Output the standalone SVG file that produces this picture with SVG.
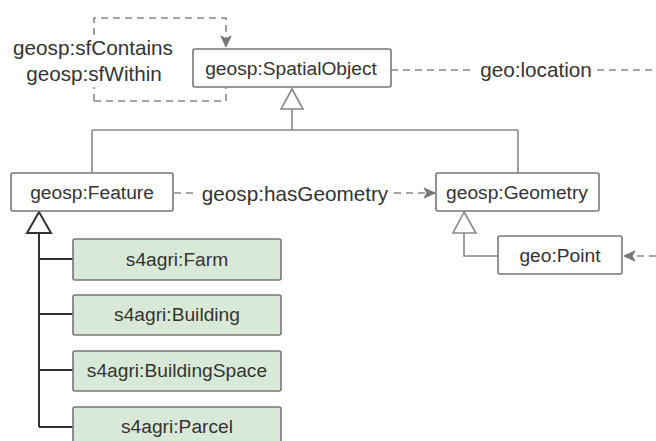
<svg xmlns="http://www.w3.org/2000/svg" width="656" height="441" viewBox="0 0 656 441">
<style>
text{font-family:"Liberation Sans",Arial,sans-serif;font-size:19.2px;fill:#333;text-anchor:middle}
.lbl{font-size:20.7px}
.box{fill:#fff;stroke:#777;stroke-width:1.6}
.green{fill:#d8ead7;stroke:#777;stroke-width:1.6}
.line{fill:none;stroke:#888;stroke-width:1.6}
.dark{fill:none;stroke:#333;stroke-width:2}
.dash{fill:none;stroke:#888;stroke-width:1.6;stroke-dasharray:7 5}
</style>
<defs>
<marker id="open" markerWidth="14" markerHeight="12" refX="12" refY="6" orient="auto" markerUnits="userSpaceOnUse">
<path d="M1,1 L12,6 L1,11 L4,6 Z" fill="#777" stroke="#777" stroke-width="1"/>
</marker>
</defs>
<g id="connectors">
<path class="dash" d="M226,101 V87 M94,101 V87 M94,101 H226 M94,35 V18 H226 V47" marker-end="url(#open)"/>
<path class="dash" d="M391,70 H475 M597,70 H656"/>
<path class="dash" d="M174,193 H196"/>
<path class="dash" d="M394,193 H435" marker-end="url(#open)"/>
<path class="dash" d="M656,256 H624" marker-end="url(#open)"/>
<path class="line" d="M292,109 V130 M92,130 H518 M92,130 V173 M518,130 V173"/>
<path class="line" d="M292,89 L281,109 H303 Z" fill="#fff"/>
<path class="line" d="M464,233 V256 H498"/>
<path class="line" d="M464,212 L453,233 H476 Z" fill="#fff"/>
<path class="dark" d="M39,233 V427 M39,259 H73 M39,314 H73 M39,370 H73 M39,427 H73"/>
<path class="dark" d="M39,212 L27,233 H51 Z" fill="#fff"/>
</g>
<g id="label-sfContains">
<text class="lbl" x="93" y="55">geosp:sfContains</text>
<text class="lbl" x="94" y="81">geosp:sfWithin</text>
</g>
<text class="lbl" x="536" y="77">geo:location</text>
<text class="lbl" x="295" y="201">geosp:hasGeometry</text>
<g id="SpatialObject"><rect class="box" x="193" y="49" width="198" height="38" rx="2"/><text x="291" y="75">geosp:SpatialObject</text></g>
<g id="Feature"><rect class="box" x="11" y="173" width="162" height="38" rx="2"/><text x="92" y="199">geosp:Feature</text></g>
<g id="Geometry"><rect class="box" x="436" y="173" width="163" height="38" rx="2"/><text x="517" y="199">geosp:Geometry</text></g>
<g id="Point"><rect class="box" x="498" y="236" width="124" height="38" rx="2"/><text x="560" y="262">geo:Point</text></g>
<g id="Farm"><rect class="green" x="73" y="239" width="208" height="41" rx="2"/><text x="177" y="266">s4agri:Farm</text></g>
<g id="Building"><rect class="green" x="73" y="295" width="208" height="40" rx="2"/><text x="177" y="321">s4agri:Building</text></g>
<g id="BuildingSpace"><rect class="green" x="73" y="351" width="208" height="40" rx="2"/><text x="177" y="377">s4agri:BuildingSpace</text></g>
<g id="Parcel"><rect class="green" x="73" y="407" width="208" height="40" rx="2"/><text x="177" y="433">s4agri:Parcel</text></g>
</svg>
